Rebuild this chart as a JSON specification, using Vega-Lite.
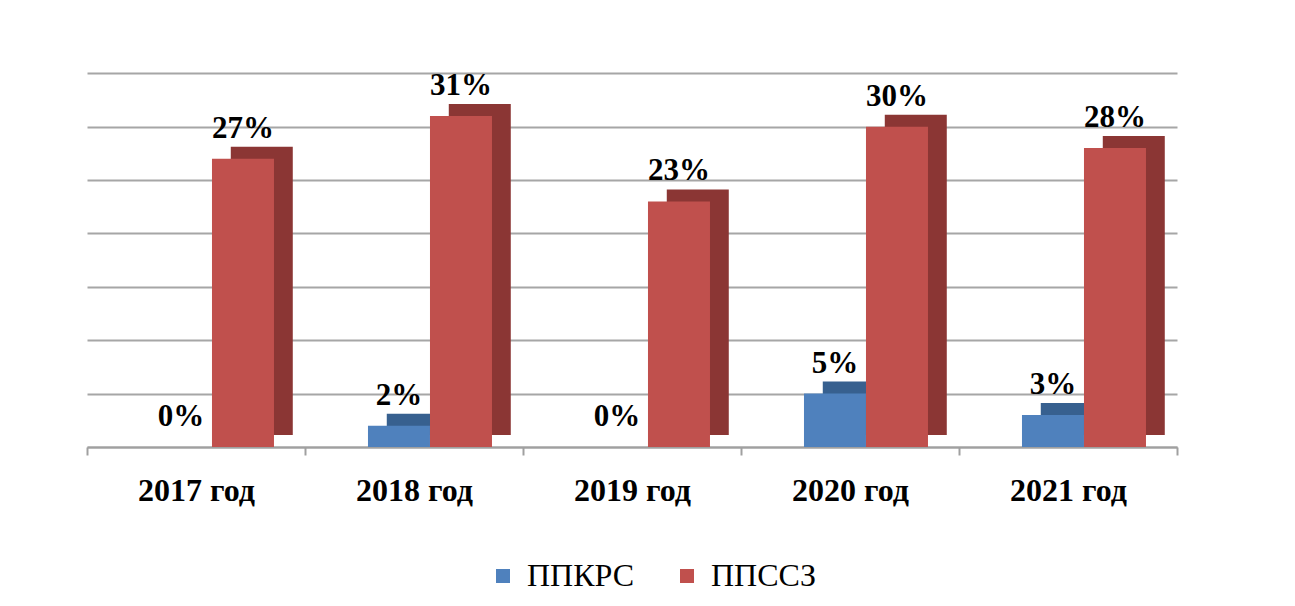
{
  "$schema": "https://vega.github.io/schema/vega-lite/v6.json",
  "autosize": {"type": "none"},
  "width": 1090,
  "height": 395,
  "padding": {"left": 87, "right": 118, "top": 52, "bottom": 159},
  "background": "white",
  "config": {"view": {"stroke": null}},
  "data": {
    "values": [
      {"year": "2017 год", "series": "ППКРС", "value": 0.0},
      {"year": "2017 год", "series": "ППССЗ", "value": 0.27},
      {"year": "2018 год", "series": "ППКРС", "value": 0.02},
      {"year": "2018 год", "series": "ППССЗ", "value": 0.31},
      {"year": "2019 год", "series": "ППКРС", "value": 0.0},
      {"year": "2019 год", "series": "ППССЗ", "value": 0.23},
      {"year": "2020 год", "series": "ППКРС", "value": 0.05},
      {"year": "2020 год", "series": "ППССЗ", "value": 0.30},
      {"year": "2021 год", "series": "ППКРС", "value": 0.03},
      {"year": "2021 год", "series": "ППССЗ", "value": 0.28}
    ]
  },
  "encoding": {
    "x": {
      "field": "year", "type": "nominal", "sort": null,
      "scale": {"paddingInner": 0, "paddingOuter": 0},
      "axis": {
        "title": null, "labelAngle": 0,
        "labelFont": "Liberation Serif", "labelFontSize": 32, "labelFontWeight": "bold",
        "labelColor": "#000000", "labelPadding": 20,
        "domainColor": "#A0A0A0", "domainWidth": 2,
        "tickColor": "#A0A0A0", "tickWidth": 2, "tickSize": 8, "tickBand": "extent",
        "grid": false
      }
    },
    "y": {
      "field": "value", "type": "quantitative",
      "scale": {"domain": [0, 0.37], "nice": false},
      "axis": {
        "title": null, "labels": false, "ticks": false, "domain": false,
        "values": [0, 0.05, 0.1, 0.15, 0.2, 0.25, 0.3, 0.35],
        "grid": true, "gridColor": "#A6A6A6", "gridWidth": 2
      }
    }
  },
  "layer": [
    {
      "mark": {"type": "bar", "yOffset": -12},
      "encoding": {
        "xOffset": {
          "field": "series", "type": "nominal", "sort": ["ППКРС", "ППССЗ"],
          "scale": {"paddingInner": 0, "paddingOuter": 0.758, "align": 0.87}
        },
        "color": {
          "field": "series", "type": "nominal", "legend": null,
          "scale": {"domain": ["ППКРС", "ППССЗ"], "range": ["#37608F", "#8B3634"]}
        }
      }
    },
    {
      "layer": [
        {
          "mark": {"type": "bar"},
          "encoding": {
            "color": {
              "field": "series", "type": "nominal",
              "scale": {"domain": ["ППКРС", "ППССЗ"], "range": ["#4F81BD", "#C0504D"]},
              "legend": {
                "title": null, "orient": "none", "direction": "horizontal",
                "legendX": 400, "legendY": 508,
                "symbolType": "square", "symbolSize": 196, "symbolStrokeWidth": 0,
                "labelFont": "Liberation Serif", "labelFontSize": 32, "labelColor": "#000000",
                "columnPadding": 36, "labelOffset": 8
              }
            }
          }
        },
        {
          "mark": {
            "type": "text", "dy": -14, "baseline": "bottom",
            "font": "Liberation Serif", "fontSize": 31, "fontWeight": "bold", "color": "#000000"
          },
          "encoding": {
            "text": {"field": "value", "type": "quantitative", "format": ".0%"}
          }
        }
      ],
      "encoding": {
        "xOffset": {
          "field": "series", "type": "nominal", "sort": ["ППКРС", "ППССЗ"],
          "scale": {"paddingInner": 0, "paddingOuter": 0.758, "align": 0.67}
        }
      }
    }
  ],
  "resolve": {"scale": {"color": "independent", "xOffset": "independent"}}
}
